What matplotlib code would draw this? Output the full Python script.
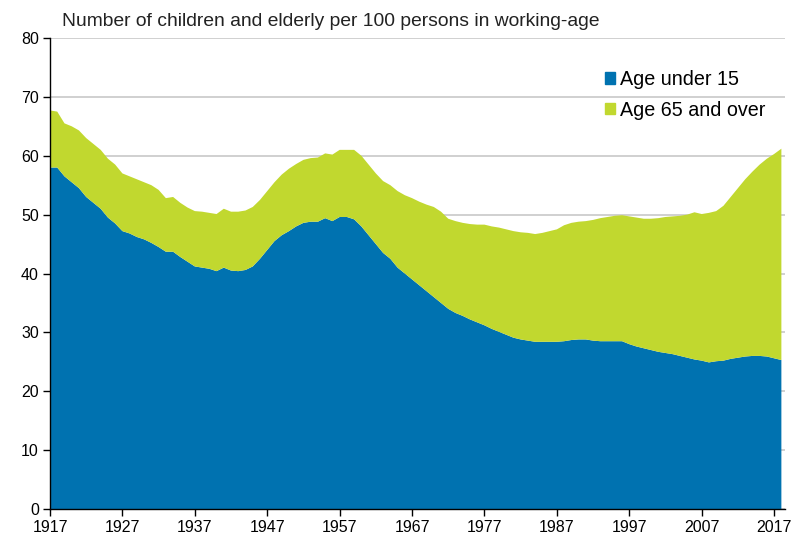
import numpy as np
import matplotlib.pyplot as plt
from matplotlib.patches import Patch

plt.rcParams['font.family'] = ['Liberation Sans', 'DejaVu Sans']

# ── Data ──────────────────────────────────────────────────────────────────────
years = list(range(1917, 2019))

under_15 = [
    58.0, 58.0, 56.5, 55.5, 54.5, 53.0, 52.0, 51.0, 49.5, 48.5,   # 1917-1926
    47.2, 46.8, 46.2, 45.8, 45.2, 44.5, 43.7, 43.7, 42.8, 42.0,   # 1927-1936
    41.2, 41.0, 40.8, 40.4, 41.0, 40.5, 40.4, 40.6, 41.2, 42.5,   # 1937-1946
    44.0, 45.5, 46.5, 47.2, 48.0, 48.6, 48.8, 48.8, 49.4, 48.9,   # 1947-1956
    49.6, 49.6, 49.2, 48.0, 46.5, 45.0, 43.5, 42.5, 41.0, 40.0,   # 1957-1966
    39.0, 38.0, 37.0, 36.0, 35.0, 34.0, 33.3, 32.8, 32.2, 31.7,   # 1967-1976
    31.2, 30.6, 30.1, 29.6, 29.1, 28.8, 28.6, 28.4, 28.4, 28.4,   # 1977-1986
    28.4, 28.5, 28.7, 28.8, 28.8, 28.6, 28.5, 28.5, 28.5, 28.5,   # 1987-1996
    28.0, 27.6, 27.3, 27.0, 26.7, 26.5, 26.3, 26.0, 25.7, 25.4,   # 1997-2006
    25.2, 24.9, 25.1, 25.2, 25.5, 25.7, 25.9, 26.0, 26.0, 25.9,   # 2007-2016
    25.6, 25.3,                                                   # 2017-2018
]

total = [
    67.7, 67.5, 65.5, 65.0, 64.3, 63.0, 62.0, 61.0, 59.5, 58.5,
    57.0, 56.5, 56.0, 55.5, 55.0, 54.2, 52.8, 53.0, 52.0, 51.2,
    50.6, 50.5, 50.3, 50.1, 51.0, 50.5, 50.5, 50.7, 51.3, 52.5,
    54.0, 55.5, 56.8, 57.8, 58.6, 59.3, 59.6, 59.7, 60.4, 60.2,
    61.0, 61.0, 61.0, 60.0, 58.5, 57.0, 55.7, 55.0, 54.0, 53.3,
    52.8, 52.2, 51.7, 51.3, 50.5, 49.3, 48.9, 48.6, 48.4, 48.3,
    48.3, 48.0, 47.8, 47.5, 47.2, 47.0, 46.9, 46.7, 46.9, 47.2,
    47.5, 48.2, 48.6, 48.8, 48.9, 49.1, 49.4, 49.6, 49.8, 49.9,
    49.7, 49.5, 49.3, 49.3, 49.4, 49.6, 49.7, 49.8, 50.0, 50.4,
    50.1, 50.3, 50.6, 51.5, 53.0, 54.5, 56.0, 57.3, 58.5, 59.5,
    60.3, 61.2,
]

over_65 = [t - u for t, u in zip(total, under_15)]

xtick_years = list(range(1917, 2018, 10))
yticks = list(range(0, 81, 10))

BLUE = "#0072B0"
GREEN = "#C1D82F"

# ── Plot ──────────────────────────────────────────────────────────────────────
fig = plt.figure(figsize=(7.95, 5.43), dpi=100, facecolor='white')
ax = fig.add_axes([50 / 795, 34 / 543, 735 / 795, 471 / 543])

ax.stackplot(years, under_15, over_65, colors=[BLUE, GREEN], lw=0, zorder=2)

ax.set_xlim(1917, 2018.5)
ax.set_ylim(0, 80)
ax.set_xticks(xtick_years)
ax.set_yticks(yticks)
ax.tick_params(axis='both', labelsize=11.5, length=5, width=1, color='black',
               direction='out', pad=3)

ax.grid(axis='y', color='#C8C8C8', lw=1.2, zorder=0)
ax.set_axisbelow(True)
for side in ('top', 'right'):
    ax.spines[side].set_visible(False)
for side in ('left', 'bottom'):
    ax.spines[side].set_color('black')
    ax.spines[side].set_linewidth(1)
    ax.spines[side].set_zorder(3)

fig.text(62 / 795, 1 - 22 / 543,
         "Number of children and elderly per 100 persons in working-age",
         fontsize=13.9, va='center', ha='left', color='#222222')

handles = [Patch(color=BLUE, label='Age under 15'),
           Patch(color=GREEN, label='Age 65 and over')]
fig.legend(handles=handles, loc='upper left',
           bbox_to_anchor=(597 / 795, 1 - 62 / 543),
           frameon=False, fontsize=14.2, handlelength=0.5, handleheight=0.5,
           handletextpad=0.25, labelspacing=0.6, borderaxespad=0)

plt.savefig("out.png", dpi=100, facecolor='white')
plt.close()
